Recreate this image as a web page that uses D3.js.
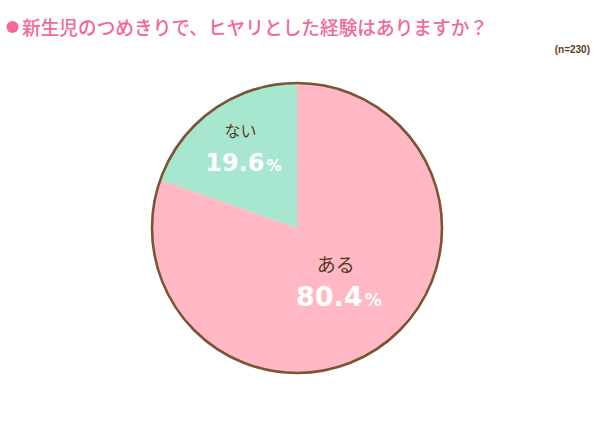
<!DOCTYPE html>
<html><head><meta charset="utf-8">
<script src="https://cdn.jsdelivr.net/npm/d3@7/dist/d3.min.js"></script>
<style>html,body{margin:0;padding:0;background:#fff;}svg{display:block;}</style>
</head><body>
<svg id="c" width="600" height="430"></svg>
<script>
const title = "新生児のつめきりで、ヒヤリとした経験はありますか？";
const note = "(n=230)";
const categories = ["ある", "ない"];
const values = [80.4, 19.6];
const colors = ["#ffb8c4", "#a7e7d0"];

const svg = d3.select("#c");
const JP = "'Noto Sans CJK JP', 'Noto Sans', sans-serif";

svg.append("circle").attr("cx", 12.5).attr("cy", 27).attr("r", 6).attr("fill", "#f4679b");
svg.append("text").attr("x", 22).attr("y", 35).attr("font-family", JP).attr("font-size", 19).attr("font-weight", 500)
  .attr("fill", "#f4679b").attr("textLength", 466).attr("lengthAdjust", "spacingAndGlyphs").text(title);
svg.append("text").attr("x", 590).attr("y", 53).attr("text-anchor", "end").attr("font-family", "'Liberation Sans', Arial, sans-serif")
  .attr("font-size", 10).attr("font-weight", "bold").attr("fill", "#5b3a1e").text(note);

const cx = 297, cy = 228, R = 145;
const g = svg.append("g").attr("transform", `translate(${cx},${cy})`);
const data = categories.map((c, i) => ({ c, v: values[i], col: colors[i] }));
const pie = d3.pie().sort(null).value(d => d.v);
const arcs = pie(data);
const arc = d3.arc().innerRadius(0).outerRadius(R);
g.selectAll("path.s").data(arcs).join("path").attr("class", "s")
  .attr("d", arc).attr("fill", d => d.data.col);
g.append("circle").attr("r", R).attr("fill", "none").attr("stroke", "#7a5533").attr("stroke-width", 2.6);

const labelR = [0.5, 0.64];
const nameSize = [19, 16];
const numSize = [27, 24];
const pctSize = [17, 15];
arcs.forEach((a, i) => {
  const lr = R * labelR[i];
  const [x, y] = d3.arc().innerRadius(lr).outerRadius(lr).centroid(a);
  g.append("text").attr("x", x - 3).attr("y", y - 15).attr("text-anchor", "middle")
    .attr("font-family", JP).attr("font-size", nameSize[i]).attr("fill", "#5b3a1e").text(a.data.c);
  const t = g.append("text").attr("x", x).attr("y", y + 19).attr("text-anchor", "middle")
    .attr("font-family", "'DejaVu Sans', sans-serif").attr("font-weight", "bold").attr("fill", "#fff");
  t.append("tspan").attr("font-size", numSize[i]).text(a.data.v.toFixed(1));
  t.append("tspan").attr("font-size", pctSize[i]).attr("dx", 2).text("%");
});
</script>
</body></html>
